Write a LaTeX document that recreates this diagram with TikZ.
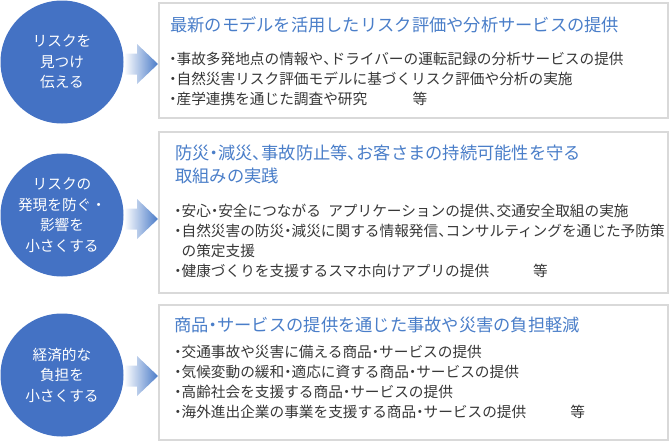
\documentclass[tikz,border=0pt]{standalone}
\usepackage{fontspec}
\setmainfont{Noto Sans CJK JP}
\usetikzlibrary{calc}
\definecolor{cblue}{HTML}{4472C4}
\definecolor{tblue}{HTML}{4A7EC9}
\definecolor{bodyc}{HTML}{383838}
\definecolor{edgec}{HTML}{D9D9D9}
\definecolor{ablue}{HTML}{4A7BC8}
\newcommand\nk{\makebox[0.5em]{・}}
\newcommand\tn{\makebox[0.5em][l]{、}}
\lineskiplimit=-100pt
\begin{document}
\begin{tikzpicture}[x=0.75pt,y=-0.75pt,
  circ/.style={circle, fill=cblue, draw=none, minimum size=92.25pt, inner sep=0pt,
    text=white, align=center,
    font=\fontsize{11pt}{15.4pt}\selectfont},
  panel/.style={draw=edgec, line width=1.1pt, fill=white, minimum width=381.75pt, inner sep=0pt},
  ttl/.style={anchor=west, inner sep=0pt, text=tblue, align=left,
    font=\fontsize{12.95pt}{17.25pt}\selectfont},
  body/.style={anchor=west, inner sep=0pt, text=bodyc, align=left,
    font=\fontsize{11pt}{15pt}\selectfont},
  arrowshade/.style={left color=white, right color=ablue}
]
\useasboundingbox (0,0) rectangle (671,443);

% panels
\node[panel, minimum height=86.25pt] (box1) at (413.5,60.5) {};
\node[panel, minimum height=120.75pt] (box2) at (413.5,212.5) {};
\node[panel, minimum height=101.25pt] (box3) at (413.5,372.5) {};

% circles
\node[circ] (c1) at (62,62) {リスクを\\見つけ\\伝える};
\node[circ] (c2) at (62,215) {リスクの\\発現を防ぐ・\\影響を\\小さくする};
\node[circ] (c3) at (62,375) {経済的な\\負担を\\小さくする};

% block arrows
\coordinate (a1) at (124,64);
\coordinate (a2) at (124,219);
\coordinate (a3) at (124,376);
\foreach \a in {a1,a2,a3}{
  \shade[arrowshade] ($(\a)+(0,-10.5)$) -- ($(\a)+(13,-10.5)$) -- ($(\a)+(13,-20)$)
    -- ($(\a)+(34,0)$) -- ($(\a)+(13,20)$) -- ($(\a)+(13,10.5)$) -- ($(\a)+(0,10.5)$) -- cycle;
}

% titles
\node[ttl] (t1) at (170,25) {最新のモデルを活用したリスク評価や分析サービスの提供};
\node[ttl] (t2) at (175,164.5) {防災\nk 減災\tn 事故防止等\tn お客さまの持続可能性を守る\\取組みの実践};
\node[ttl] (t3) at (174,325) {商品\nk サービスの提供を通じた事故や災害の負担軽減};

% bodies
\node[body] (b1) at (169,79) {\nk 事故多発地点の情報や\tn ドライバーの運転記録の分析サービスの提供\\
\nk 自然災害リスク評価モデルに基づくリスク評価や分析の実施\\
\nk 産学連携を通じた調査や研究\hspace{3.1em}等};
\node[body] (b2) at (174,240.5) {\nk 安心\nk 安全につながる\hspace{0.5em}アプリケーションの提供\tn 交通安全取組の実施\\
\nk 自然災害の防災\nk 減災に関する情報発信\tn コンサルティングを通じた予防策\\
\hspace{0.5em}の策定支援\\
\nk 健康づくりを支援するスマホ向けアプリの提供\hspace{3em}等};
\node[body] (b3) at (174,382) {\nk 交通事故や災害に備える商品\nk サービスの提供\\
\nk 気候変動の緩和\nk 適応に資する商品\nk サービスの提供\\
\nk 高齢社会を支援する商品\nk サービスの提供\\
\nk 海外進出企業の事業を支援する商品\nk サービスの提供\hspace{3em}等};
\end{tikzpicture}
\end{document}
